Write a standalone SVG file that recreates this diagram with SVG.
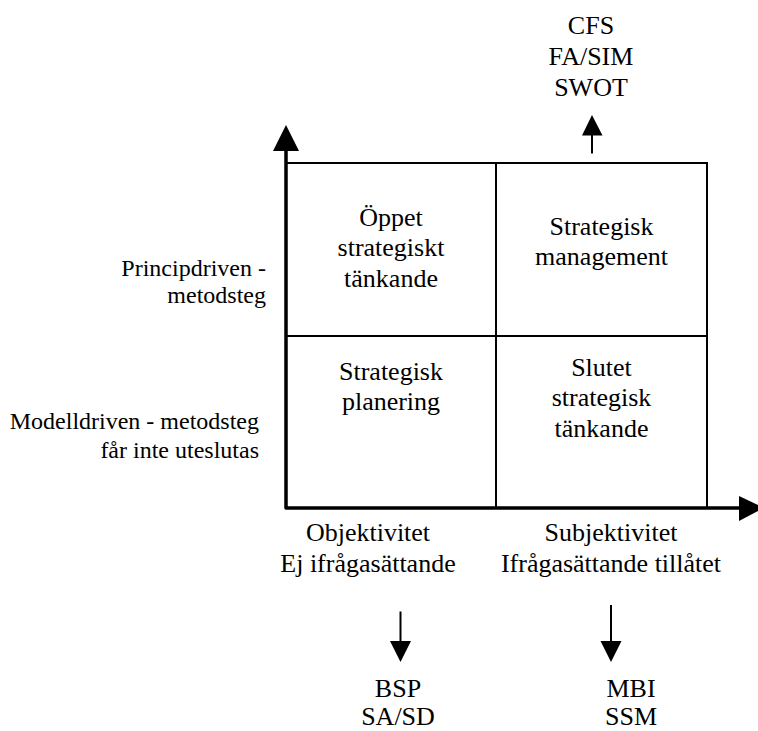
<svg xmlns="http://www.w3.org/2000/svg" width="758" height="731" viewBox="0 0 758 731">
  <style>
    text { font-family: "Times New Roman", "Liberation Serif", Tinos, "DejaVu Serif", "Noto Serif", serif; fill: #000; }
    .q { font-size: 26px; text-anchor: middle; }
    .side { font-size: 24px; text-anchor: end; }
    .grid { fill: none; stroke: #000; stroke-width: 2; }
    .axis { fill: none; stroke: #000; stroke-width: 3.5; stroke-linejoin: round; }
    .thin { fill: none; stroke: #000; stroke-width: 2; }
    .head { fill: #000; stroke: none; }
  </style>
  <rect width="758" height="731" fill="#fff"/>

  <!-- quadrant grid -->
  <g id="grid">
    <path class="grid" d="M286 163 H707 V508 M496 163 V508 M286 336 H707"/>
  </g>

  <!-- axes and pointer arrows -->
  <g id="connectors">
    <path class="axis" d="M286 150 V508 H741"/>
    <polygon class="head" points="286,125 273,151 299,151"/>
    <polygon class="head" points="764,508 739,496 739,521"/>
    <line class="thin" x1="592" y1="153.5" x2="592" y2="134"/>
    <polygon class="head" points="592,115 582,135.5 602.5,135.5"/>
    <line class="thin" x1="400.5" y1="611.5" x2="400.5" y2="642"/>
    <polygon class="head" points="400.5,662 390,641 411,641"/>
    <line class="thin" x1="611" y1="605" x2="611" y2="642"/>
    <polygon class="head" points="611,662 600.5,641 621.5,641"/>
  </g>

  <g id="q-open">
    <text class="q" x="391" y="226">Öppet</text>
    <text class="q" x="391" y="256">strategiskt</text>
    <text class="q" x="391" y="286.5">tänkande</text>
  </g>
  <g id="q-management">
    <text class="q" x="601.5" y="235">Strategisk</text>
    <text class="q" x="601.5" y="265">management</text>
  </g>
  <g id="q-planning">
    <text class="q" x="391" y="380">Strategisk</text>
    <text class="q" x="391" y="410">planering</text>
  </g>
  <g id="q-closed">
    <text class="q" x="601.5" y="376">Slutet</text>
    <text class="q" x="601.5" y="406">strategisk</text>
    <text class="q" x="601.5" y="436.5">tänkande</text>
  </g>

  <g id="top-methods">
    <text class="q" x="591" y="34">CFS</text>
    <text class="q" x="591" y="65">FA/SIM</text>
    <text class="q" x="591" y="96">SWOT</text>
  </g>

  <g id="y-principle">
    <text class="side" x="266" y="276">Principdriven -</text>
    <text class="side" x="266" y="303">metodsteg</text>
  </g>
  <g id="y-model">
    <text class="side" x="259" y="429">Modelldriven - metodsteg</text>
    <text class="side" x="259" y="458">får inte uteslutas</text>
  </g>

  <g id="x-objective">
    <text class="q" x="368" y="541">Objektivitet</text>
    <text class="q" x="368" y="571.5">Ej ifrågasättande</text>
  </g>
  <g id="x-subjective">
    <text class="q" x="611" y="541">Subjektivitet</text>
    <text class="q" x="611" y="571.5">Ifrågasättande tillåtet</text>
  </g>

  <g id="bottom-left-methods">
    <text class="q" x="398" y="697">BSP</text>
    <text class="q" x="398" y="725">SA/SD</text>
  </g>
  <g id="bottom-right-methods">
    <text class="q" x="631" y="697">MBI</text>
    <text class="q" x="631" y="725">SSM</text>
  </g>
</svg>
